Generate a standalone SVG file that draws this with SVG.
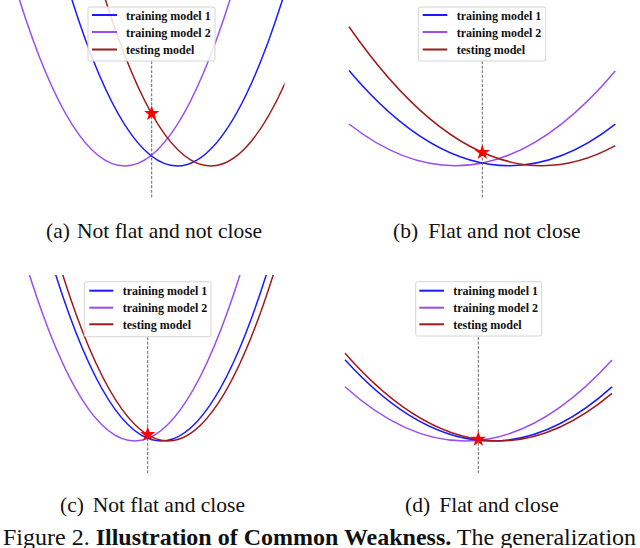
<svg xmlns="http://www.w3.org/2000/svg" xmlns:xlink="http://www.w3.org/1999/xlink" width="640" height="548" viewBox="0 0 640 548">
<style>
.c{fill:none;stroke-width:1.5}
.b{stroke:#1a1aff}
.p{stroke:#9b4ef0}
.r{stroke:#a01a1a}
.dash{stroke:#555;stroke-width:0.9;stroke-dasharray:3,1.6;fill:none}
.leg{fill:#fff;fill-opacity:0.85;stroke:#d4d4d4;stroke-width:1}
.ll{stroke-width:2;fill:none}
.lt{font-family:"Liberation Serif","Times New Roman",serif;font-weight:bold;font-size:12px;fill:#111}
.cap{font-family:"Liberation Serif","Times New Roman",serif;font-size:21.5px;fill:#111}
.fig{font-family:"Liberation Serif","Times New Roman",serif;font-size:24px;fill:#111}
.star{fill:#ff0000}
</style>
<defs>
<polygon id="star" points="0,-8 1.881,-2.589 7.608,-2.472 3.043,0.989 4.702,6.472 0,3.2 -4.702,6.472 -3.043,0.989 -7.608,-2.472 -1.881,-2.589"/>
<clipPath id="ca"><rect x="0" y="0" width="284.5" height="205"/></clipPath>
<clipPath id="cb"><rect x="340" y="0" width="290" height="205"/></clipPath>
<clipPath id="cc"><rect x="0" y="275" width="300" height="205"/></clipPath>
<clipPath id="cd"><rect x="340" y="275" width="290" height="205"/></clipPath>
</defs>

<g id="panel-a">
<g clip-path="url(#ca)">
<path class="c p" d="M18.7,-2.5 Q124.7,334.5 230.7,-2.5"/>
<path class="c b" d="M71.2,-2.5 Q177.2,334.5 283.2,-2.5"/>
<path class="c r" d="M104.7,-2.5 Q210.7,334.5 316.7,-2.5"/>
</g>
<line class="dash" x1="151.7" y1="61" x2="151.7" y2="199"/>
<use xlink:href="#star" class="star" x="151.7" y="113.5"/>
<g id="legend-a">
<rect class="leg" x="88" y="7" width="127" height="54" rx="2"/>
<line class="ll b" x1="92" y1="15" x2="117" y2="15"/>
<line class="ll p" x1="92" y1="32" x2="117" y2="32"/>
<line class="ll r" x1="92" y1="49.5" x2="117" y2="49.5"/>
<text class="lt" x="126" y="19.5">training model 1</text>
<text class="lt" x="126" y="36.5">training model 2</text>
<text class="lt" x="126" y="54">testing model</text>
</g>
<text class="cap" x="46" y="237.5">(a)</text>
<text class="cap" x="77" y="237.5">Not flat and not close</text>
</g>

<g id="panel-b">
<g clip-path="url(#cb)">
<path class="c p" d="M349,124 Q482.15,228.6 615.3,70.9"/>
<path class="c b" d="M349,70.5 Q482.15,228.6 615.3,124.2"/>
<path class="c r" d="M349,26.8 Q482.15,218.5 615.3,145.7"/>
</g>
<line class="dash" x1="482.3" y1="61" x2="482.3" y2="199"/>
<use xlink:href="#star" class="star" x="482.3" y="152.5"/>
<g id="legend-b">
<rect class="leg" x="418.3" y="7" width="127.4" height="54" rx="2"/>
<line class="ll b" x1="422.7" y1="15" x2="447.3" y2="15"/>
<line class="ll p" x1="422.7" y1="32" x2="447.3" y2="32"/>
<line class="ll r" x1="422.7" y1="49.5" x2="447.3" y2="49.5"/>
<text class="lt" x="456.7" y="19.5">training model 1</text>
<text class="lt" x="456.7" y="36.5">training model 2</text>
<text class="lt" x="456.7" y="54">testing model</text>
</g>
<text class="cap" x="393" y="237.5">(b)</text>
<text class="cap" x="428.3" y="237.5">Flat and not close</text>
</g>

<g id="panel-c">
<g clip-path="url(#cc)">
<path class="c p" d="M28.7,272.5 Q134.7,609.5 240.7,272.5"/>
<path class="c b" d="M55,272.5 Q161,609.5 267,272.5"/>
<path class="c r" d="M62,272.5 Q168,609.5 274,272.5"/>
</g>
<line class="dash" x1="147.7" y1="337" x2="147.7" y2="473"/>
<use xlink:href="#star" class="star" x="147.7" y="434.5"/>
<g id="legend-c">
<rect class="leg" x="84.3" y="281.7" width="126.7" height="55" rx="2"/>
<line class="ll b" x1="89.3" y1="290.7" x2="113.3" y2="290.7"/>
<line class="ll p" x1="89.3" y1="307.7" x2="113.3" y2="307.7"/>
<line class="ll r" x1="89.3" y1="324.3" x2="113.3" y2="324.3"/>
<text class="lt" x="122.7" y="295">training model 1</text>
<text class="lt" x="122.7" y="312">training model 2</text>
<text class="lt" x="122.7" y="328.7">testing model</text>
</g>
<text class="cap" x="60" y="511.5">(c)</text>
<text class="cap" x="92.7" y="511.5">Not flat and close</text>
</g>

<g id="panel-d">
<g clip-path="url(#cd)">
<path class="c p" d="M345,386.7 Q478.5,507.35 612,360"/>
<path class="c b" d="M345,359.75 Q478.5,507.3 612,386.86"/>
<path class="c r" d="M345,353.36 Q478.5,505.6 612,393.38"/>
</g>
<line class="dash" x1="478.3" y1="337" x2="478.3" y2="473"/>
<use xlink:href="#star" class="star" x="478.3" y="439.3"/>
<g id="legend-d">
<rect class="leg" x="415.7" y="281.7" width="126" height="54.3" rx="2"/>
<line class="ll b" x1="419.3" y1="290.7" x2="444" y2="290.7"/>
<line class="ll p" x1="419.3" y1="307.7" x2="444" y2="307.7"/>
<line class="ll r" x1="419.3" y1="324.3" x2="444" y2="324.3"/>
<text class="lt" x="453.3" y="295">training model 1</text>
<text class="lt" x="453.3" y="312">training model 2</text>
<text class="lt" x="453.3" y="328.7">testing model</text>
</g>
<text class="cap" x="405" y="511.5">(d)</text>
<text class="cap" x="439.3" y="511.5">Flat and close</text>
</g>

<g id="connectors"></g>

<text class="fig" x="3" y="545">Figure 2. <tspan font-weight="bold">Illustration of Common Weakness.</tspan> The generalization</text>
</svg>
